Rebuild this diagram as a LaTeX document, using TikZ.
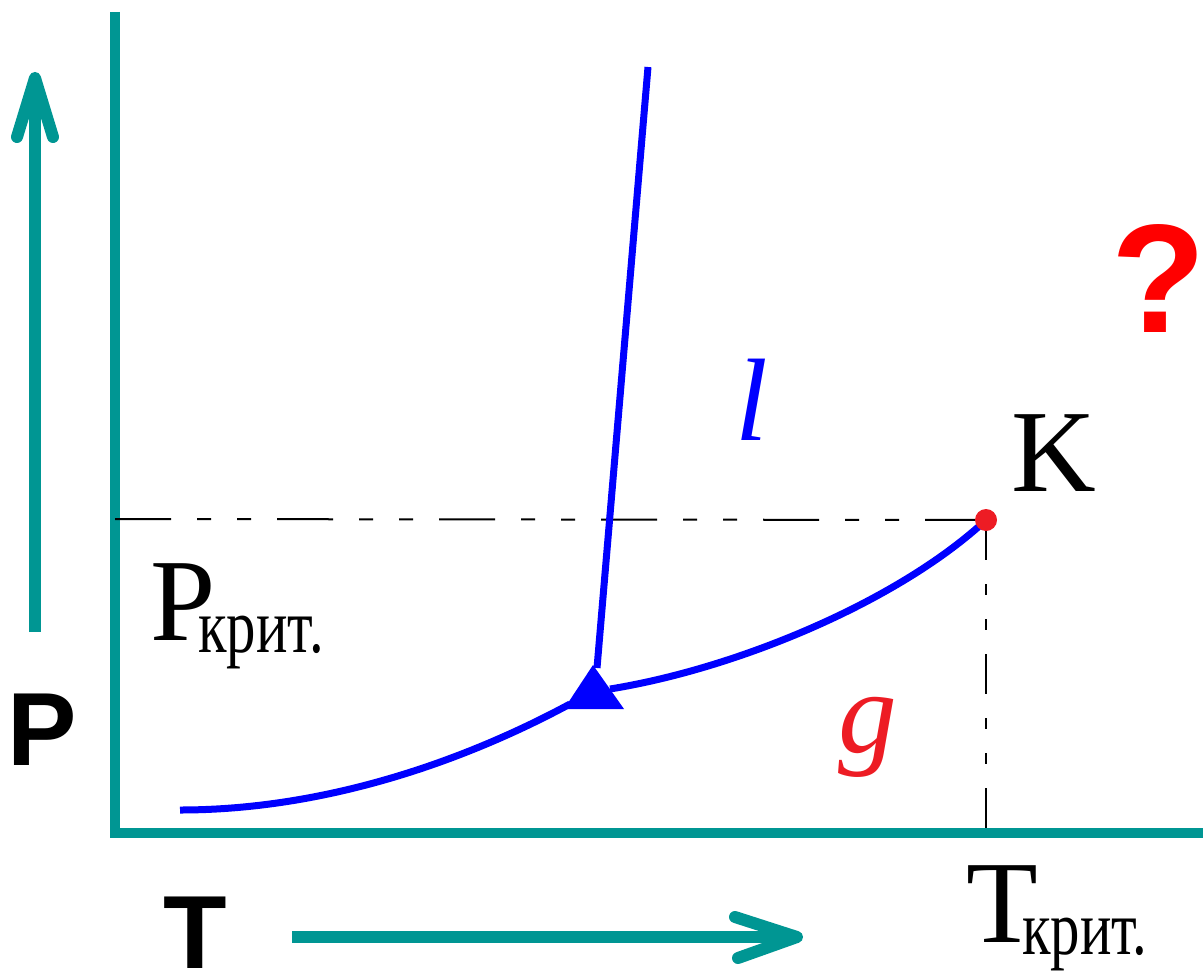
\documentclass[tikz,border=0pt]{standalone}
\usepackage{fontspec}
\setmainfont{Liberation Serif}
\newfontfamily\labelsans{Liberation Sans}
\definecolor{axisteal}{RGB}{0,150,147}
\definecolor{curveblue}{RGB}{0,0,255}
\definecolor{critred}{RGB}{237,28,36}
\tikzset{every picture/.style={line width=0.75pt}}
\tikzset{
  axisline/.style={color=axisteal, line width=8pt},
  dirarrow/.style={color=axisteal, line width=9pt, line cap=round, line join=round},
  phaseline/.style={color=curveblue, line width=5.25pt},
  critdashh/.style={line width=1.5pt, dash pattern=on 42pt off 19.5pt on 10.5pt off 19.5pt on 10.5pt off 19.5pt},
  critdashv/.style={line width=1.5pt, dash pattern=on 30pt off 18pt on 8.25pt off 18pt on 8.25pt off 18pt},
  biglabel/.style={inner sep=0pt, font=\fontsize{88}{96}\selectfont},
}
\newcommand{\critsub}[1]{\raisebox{-9pt}{\scalebox{0.76}[1]{\fontsize{58}{62}\selectfont #1}}}

\begin{document}
\begin{tikzpicture}[x=0.75pt,y=0.75pt,yscale=-1,xscale=1]
        \useasboundingbox (0,0) rectangle (1203,974);
        \coordinate (K) at (986,520);
        \coordinate (TP) at (594,692);

        % axes
        \draw [axisline] (115,12) -- (115,833) -- (1203,833) ;
        \draw [critdashh] (115,519) -- (K) ;
        \draw [critdashv] (K) -- (986,833) ;

        % direction arrows
        \draw [dirarrow, line cap=butt] (35,632) -- (35,84) ;
        \draw [dirarrow] (17,137) -- (35,78) -- (53,137) ;
        \draw [dirarrow, line cap=butt] (292,937) -- (790,937) ;
        \draw [dirarrow] (735,917) -- (797,937) -- (738,958) ;

        % phase boundaries
        \draw [phaseline] (180,810) .. controls (330,810) and (470,758) .. (570,704) ;
        \draw [phaseline] (610,689) .. controls (740,668) and (900,600) .. (K) ;
        \draw [phaseline] (597,668) -- (648,67) ;
        \fill [curveblue] (593,665) -- (564,709) -- (624,709) -- cycle ;
        \fill [critred] (K) circle (8.25pt) ;

        % labels
        \node [biglabel, anchor=base west] (Klab) at (1011,491) {K};
        \node [biglabel, anchor=base west] (Pcrit) at (150,640) {P\kern-13pt\critsub{крит.}};
        \node [biglabel, anchor=base west] (Tcrit) at (966,942) {T\kern-12pt\critsub{крит.}};
        \node [biglabel, anchor=base, color=curveblue] (liq) at (752,440) {\itshape l};
        \node [biglabel, anchor=base, color=critred] (gas) at (868,752) {\itshape g};
        \node [inner sep=0pt, anchor=base, color=red, font=\labelsans\bfseries\fontsize{116}{124}\selectfont] (qmark) at (1159,332) {?};
        \node [inner sep=0pt, anchor=base, font=\labelsans\bfseries\fontsize{78}{84}\selectfont] (Plab) at (42,765) {P};
        \node [inner sep=0pt, anchor=base, font=\labelsans\bfseries\fontsize{78}{84}\selectfont] (Tlab) at (195,968) {T};
\end{tikzpicture}
\end{document}
